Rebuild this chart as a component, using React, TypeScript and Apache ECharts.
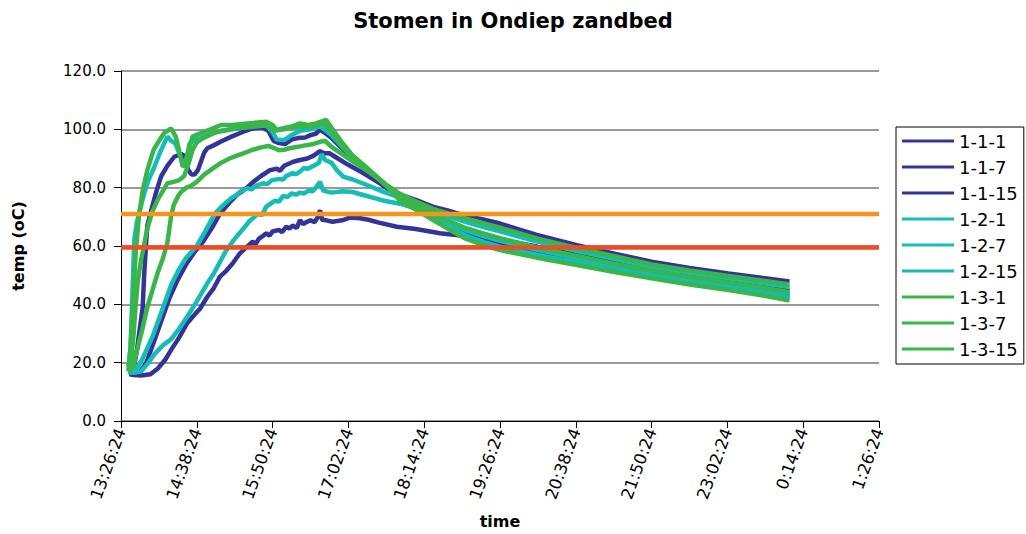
import React, { useEffect, useRef } from "react";
import * as echarts from "echarts";

// time axis: minutes since 13:26:24
const startSeconds = 13 * 3600 + 26 * 60 + 24;
const xMin = 0;
const xMax = 720;
const xStep = 72;
const yTicks = [0, 20, 40, 60, 80, 100, 120];

const seriesNames = ["1-1-1", "1-1-7", "1-1-15", "1-2-1", "1-2-7", "1-2-15", "1-3-1", "1-3-7", "1-3-15"];

const s111 = [[8,17.5],[12,18],[15,24],[18,32],[20.6,39],[22,50],[23.7,60],[25,67],[28.5,72],[33,78],[38,83.8],[44,87.5],[50.6,90.6],[55,91.2],[58.6,91.5],[61,89],[64,86],[67,84.5],[70,84.5],[73,86],[76,89],[79,92],[82,93.5],[88,94.5],[95,95.8],[105,97.5],[115,99],[125,100.3],[134,100.6],[140,99.5],[145,96],[150,95.3],[156,95],[162,96.5],[168,97],[175,97.2],[180,98],[185,98.5],[189,99.8],[193,99],[200,97],[210,93.5],[220,90],[233,86],[250,80.5],[265,76.2],[280,73.3],[296,70.1],[312,67.2],[328,64.5],[345,62.4],[360,60.9],[395,58.0],[433,55.2],[470,52.6],[504,50.3],[540,48.2],[577,46.3],[610,44.5],[635,42.9]];
const s117 = [[8,16.5],[12,16],[18,16.8],[24,20],[30.7,26.6],[38,34],[46.5,42.6],[54,48.5],[62.4,54],[70,58],[78,61.5],[86,66],[94,71],[102,74.5],[110,77.5],[118,79.5],[125.7,82],[133,84],[141.5,86],[148,86.5],[151,85.8],[155,87.5],[163.7,88.9],[170,89.5],[177,90],[183,91],[189,92.5],[193,91.8],[198,91.8],[206,90],[215,88],[230,85],[246,81.5],[262,78],[280,75.8],[296,73.5],[312,72],[325,70.6],[345,69],[360,67.7],[395,63.8],[433,60.3],[470,57.3],[504,54.6],[540,52.5],[577,50.6],[610,49.0],[635,47.8]];
const s1115 = [[8,16],[12,15.8],[19,15.6],[28,16],[35,18],[42,21],[47.5,24.3],[55,28.5],[63,33.6],[70,36.5],[75,38.5],[82,42.6],[88,45.5],[94,49.5],[100,51.5],[106,54],[113,57.5],[119,59.5],[125,61.5],[128,60.8],[131,62.5],[135,63.5],[138,64.4],[141,63.5],[144,65],[150,65.5],[153,64.8],[157,66.6],[160,66],[163,67],[167,66.2],[170,68.9],[173,67.5],[176,68.2],[180,68.8],[184,68.2],[187,70],[189,72.3],[191,69],[195,68.8],[201,68.3],[210,68.8],[218,69.8],[227,69.5],[235,69],[245,68],[262,66.6],[280,65.8],[303,64.4],[325,63.5],[350,62.6],[360,62.2],[395,59.8],[433,57.0],[470,54.3],[504,51.8],[540,49.7],[577,47.8],[610,46.1],[635,44.7]];
const s121 = [[7,18.6],[9,25],[11,45],[12.6,62],[15,68],[17,71],[22,78],[26,82.5],[31.6,87],[37,92],[44,97.5],[48,96],[52,95],[56,91],[60,87],[63,91],[65,95],[70,96.5],[76,97],[85,98.5],[95,99.5],[110,100.3],[125,100.9],[138,101.3],[144,99],[148,96.5],[155,96.3],[162,98],[170,99.5],[180,100],[189,101],[193,100],[200,98],[210,94],[220,90.5],[233,86.5],[250,81.5],[265,75.9],[280,72.9],[296,69.6],[312,66.4],[328,63.5],[345,61.3],[360,59.8],[395,57.0],[433,54.4],[470,51.8],[504,49.6],[540,47.5],[577,45.6],[610,43.8],[635,42.1]];
const s127 = [[7,17],[10,16.5],[15,18],[20,21],[25,25],[30,29],[36,35],[42,41],[48,47],[55,52],[62,56],[72,60],[80,65],[89,71],[97,74],[105,76.5],[110,77.5],[113,78.6],[120,79.8],[124,79.4],[128,80.6],[135,81.5],[139,81.2],[143,82.5],[150,83],[154,82.8],[157,84],[163,85],[166,84.6],[170,85.5],[174,86.8],[177,86.4],[183,87.5],[188,88.5],[190.6,91.5],[194,89.5],[200,88.5],[205,86],[211,83.8],[220,82.8],[233,81],[250,78.5],[265,76.6],[280,74.3],[296,72.1],[312,70],[328,68.2],[345,66.4],[360,65.0],[395,61.5],[433,58.3],[470,55.4],[504,52.9],[540,50.8],[577,48.9],[610,47.2],[635,45.9]];
const s1215 = [[7,17],[12,16.5],[19,17],[25,19.5],[32,23],[40,26],[47.5,28],[55,31.5],[63,35.8],[72,41],[82,47.2],[88,50.5],[95,55.2],[100,58.5],[107,62],[114,65],[122,68.5],[130,71],[134,70.6],[138,73.5],[146,75.5],[150,75.2],[154,77.2],[158,76.8],[162,78],[166,77.6],[170,78.3],[174,78],[178,79],[182,78.8],[185,80],[189,82],[192,79],[200,78.3],[210,78.8],[220,78.5],[230,77.5],[240,76.5],[250,75.5],[265,74.5],[280,72.8],[296,70.6],[312,67.8],[328,65.3],[345,63.3],[360,61.8],[395,58.7],[433,55.9],[470,53.2],[504,50.9],[540,48.8],[577,46.9],[610,45.1],[635,43.6]];
const s131 = [[7,17],[9,25],[11,38],[12.5,48],[14,58],[17,70],[20.6,79],[25,86],[31,93],[36,96],[41,98.7],[47.5,100.3],[52,97.5],[55,93],[58.6,87.2],[62,90],[65,94],[68,97.5],[76,98.7],[85,100],[95,101.5],[106,101.5],[120,102],[138,102.6],[144,101.5],[148,99.8],[155,100.5],[162,101],[170,102],[178,101.5],[185,102],[195,103.2],[200,100.5],[210,95.5],[220,91],[233,87],[250,81.5],[265,75.5],[280,72.5],[296,69],[312,65.6],[328,62.4],[345,60.2],[360,58.6],[395,56],[433,53.5],[470,51],[504,48.9],[540,46.8],[577,44.9],[610,43],[635,41.3]];
const s137 = [[8,17],[12,19],[15,24],[20,31],[25,39],[30,45],[35,51],[40,56],[44,61],[47.5,70],[50,74],[54,77],[57,78.5],[62,80],[66,80.5],[72,82],[79,84.5],[87,86.5],[95,88.5],[103,90],[110,91],[118,92],[125,93],[133,93.8],[140,94.3],[146,93.5],[150,92.8],[155,93],[160,93.5],[168,94],[175,94.5],[183,95],[190,95.8],[194,96],[200,94],[210,91.5],[220,89],[233,86],[250,81.5],[265,77.9],[280,75.3],[296,72.8],[312,71.0],[328,69.4],[345,67.7],[360,66.3],[395,62.6],[433,59.3],[470,56.4],[504,53.7],[540,51.6],[577,49.7],[610,48.1],[635,46.8]];
const s1315 = [[8,17],[10,22],[12,30],[14,40],[16,48],[18.5,54],[20.6,58],[25,66],[30,72],[35,76],[40,79],[44,81.5],[50,82],[55.4,82.6],[60,84],[64,88],[68,93],[72,95.5],[78,97],[90,99],[105,100],[120,100.8],[138,101.5],[146,99.5],[155,100],[165,100.8],[180,101],[190,101.8],[194,101.5],[200,99],[210,94.5],[220,90.8],[233,86.8],[250,81.2],[265,76.8],[280,74.0],[296,71.0],[312,68.5],[328,66.1],[345,64.2],[360,62.7],[395,59.5],[433,56.6],[470,53.8],[504,51.5],[540,49.4],[577,47.5],[610,45.7],[635,44.2]];

const seriesData = [s111, s117, s1115, s121, s127, s1215, s131, s137, s1315];

const refOrange = 71;
const refRed = 59.5;

const BLUE = "#333399";
const TEAL = "#14BDB6";
const GREEN = "#3AB54A";
const seriesColors = [BLUE, BLUE, BLUE, TEAL, TEAL, TEAL, GREEN, GREEN, GREEN];

const FONT = "'DejaVu Sans', 'Liberation Sans', Arial, sans-serif";

function fmtTime(m: number) {
  const total = startSeconds + Math.round(m * 60);
  const h = Math.floor(total / 3600) % 24;
  const mm = Math.floor((total % 3600) / 60);
  const ss = total % 60;
  return `${h}:${String(mm).padStart(2, "0")}:${String(ss).padStart(2, "0")}`;
}

export default function App() {
  const ref = useRef<HTMLDivElement>(null);
  useEffect(() => {
    document.body.style.margin = "0";
    const chart = echarts.init(ref.current!, undefined, { renderer: "svg" });
    const lines = seriesNames.map((name, i) => ({
      name,
      type: "line",
      data: seriesData[i],
      showSymbol: false,
      symbol: "none",
      lineStyle: { width: 4.5, color: seriesColors[i] },
      itemStyle: { color: seriesColors[i] },
      z: 2,
    }));
    chart.setOption({
      animation: false,
      backgroundColor: "#ffffff",
      title: {
        text: "Stomen in Ondiep zandbed",
        left: "center",
        top: 5,
        textStyle: { fontFamily: FONT, fontSize: 21, fontWeight: "bold", color: "#000" },
      },
      grid: { left: 121, right: 147, top: 71, bottom: 113, outerBoundsMode: "none", containLabel: false },
      legend: {
        data: seriesNames,
        orient: "vertical",
        left: 896,
        top: 127,
        icon: "rect",
        itemWidth: 52,
        itemHeight: 3,
        itemGap: 8,
        padding: [5, 6, 6, 6],
        borderColor: "#000",
        borderWidth: 1,
        textStyle: { fontFamily: FONT, fontSize: 18, lineHeight: 16, color: "#000" },
      },
      xAxis: {
        type: "value",
        min: xMin,
        max: xMax,
        interval: xStep,
        name: "time",
        nameLocation: "middle",
        nameGap: 92,
        nameTextStyle: { fontFamily: FONT, fontSize: 16, fontWeight: "bold", color: "#000" },
        axisLine: { show: true, lineStyle: { color: "#000", width: 1 } },
        axisTick: { show: true, length: 7, lineStyle: { color: "#000" } },
        splitLine: { show: false },
        axisLabel: {
          rotate: 70,
          margin: 8,
          fontFamily: FONT,
          fontSize: 16.5,
          color: "#000",
          formatter: (v: number) => fmtTime(v),
        },
      },
      yAxis: {
        type: "value",
        min: yTicks[0],
        max: yTicks[yTicks.length - 1],
        interval: 20,
        name: "temp (oC)",
        nameLocation: "middle",
        nameGap: 95,
        nameTextStyle: { fontFamily: FONT, fontSize: 16, fontWeight: "bold", color: "#000" },
        axisLine: { show: true, lineStyle: { color: "#000", width: 1 } },
        axisTick: { show: true, length: 7, lineStyle: { color: "#000" } },
        splitLine: { show: true, lineStyle: { color: "#777777", width: 1.5 } },
        axisLabel: {
          margin: 15,
          fontFamily: FONT,
          fontSize: 15,
          color: "#000",
          formatter: (v: number) => v.toFixed(1),
        },
      },
      series: [
        ...lines,
        {
          name: "ref-orange",
          type: "line",
          data: [[xMin, refOrange], [xMax, refOrange]],
          showSymbol: false,
          symbol: "none",
          lineStyle: { width: 4.5, color: "#F7941D" },
          z: 3,
          silent: true,
        },
        {
          name: "ref-red",
          type: "line",
          data: [[xMin, refRed], [xMax, refRed]],
          showSymbol: false,
          symbol: "none",
          lineStyle: { width: 4.5, color: "#F04C24" },
          z: 3,
          silent: true,
        },
      ],
    });
    return () => chart.dispose();
  }, []);
  return <div ref={ref} style={{ width: 1026, height: 534 }} />;
}
